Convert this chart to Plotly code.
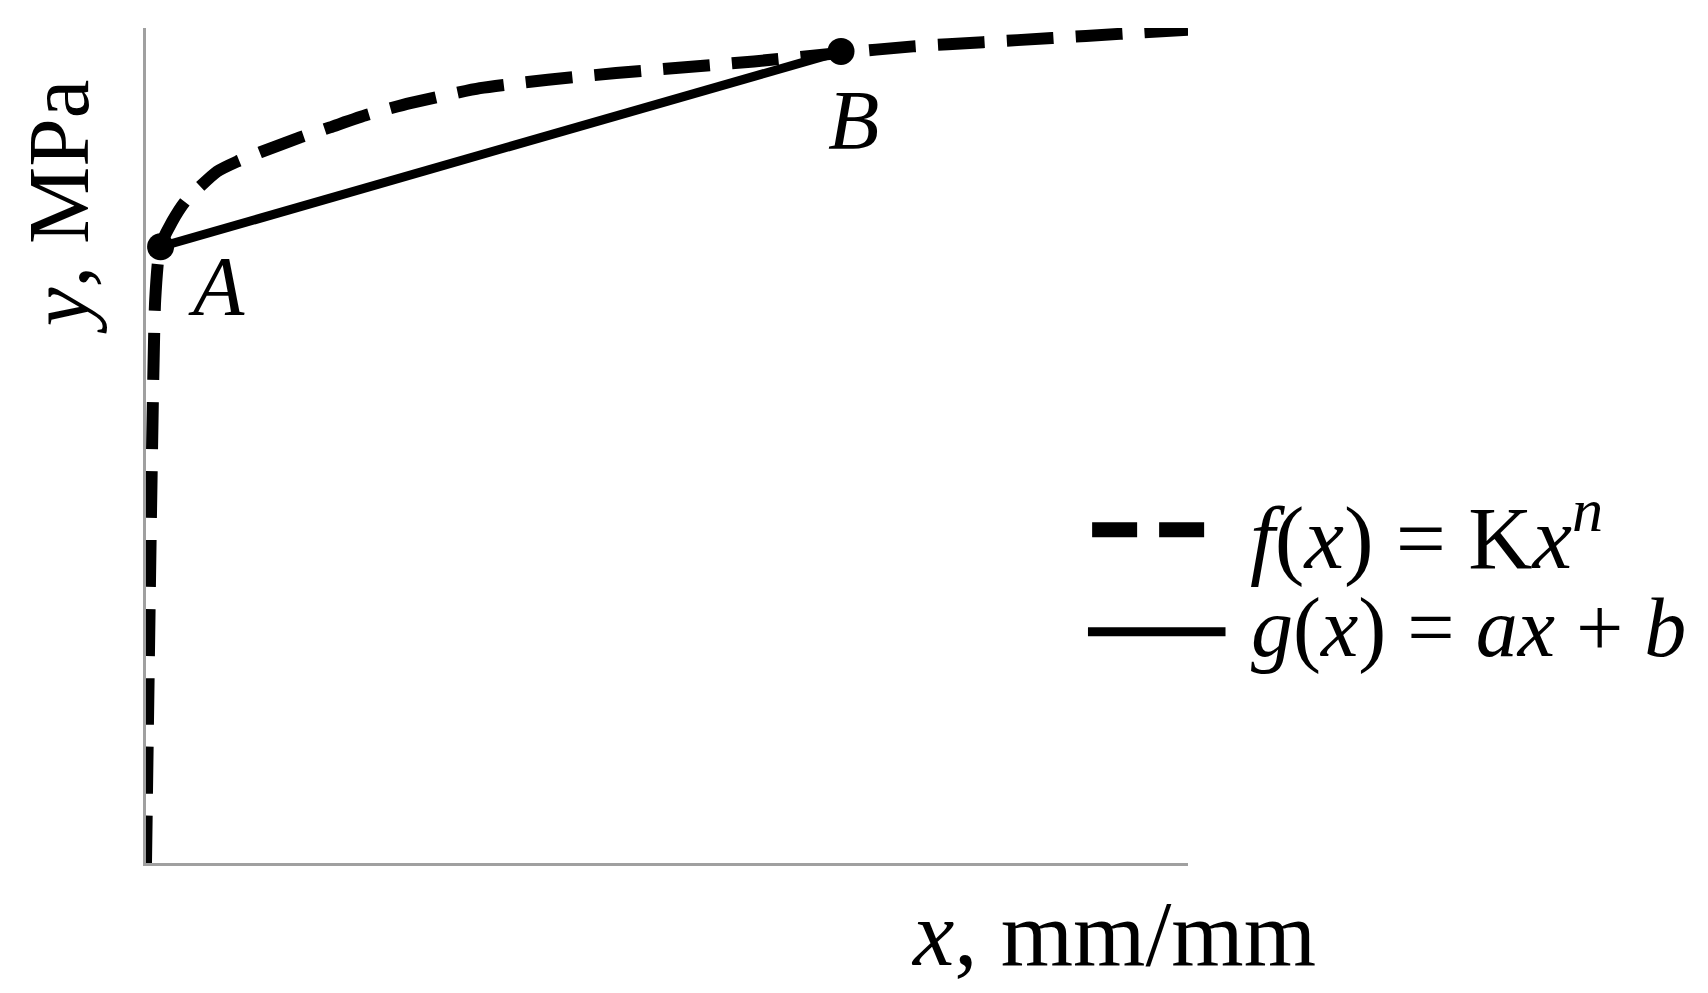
import plotly.graph_objects as go

# Power-law curve f(x) = K x^n (normalised units)
f_x = [0.0000, 0.0022, 0.0050, 0.0088, 0.0134, 0.0250, 0.0374, 0.0518, 0.0681,
       0.0873, 0.1094, 0.1478, 0.1766, 0.2121, 0.2534, 0.3205, 0.3858, 0.4511,
       0.5173, 0.5835, 0.6660, 0.7361, 0.8033, 0.8695, 0.9347, 1.0000]
f_y = [0.000, 0.195, 0.435, 0.674, 0.738, 0.768, 0.792, 0.810, 0.828,
       0.840, 0.851, 0.869, 0.881, 0.896, 0.910, 0.928, 0.938, 0.946,
       0.953, 0.960, 0.970, 0.978, 0.983, 0.988, 0.993, 0.998]

# Linear approximation g(x) = a x + b between A and B
pt_names = ["A", "B"]
pt_x = [0.0140, 0.667]
pt_y = [0.738, 0.972]

FONT = "Liberation Serif"

fig = go.Figure()
fig.add_trace(go.Scatter(x=f_x, y=f_y, mode="lines",
                         line=dict(color="black", width=12, dash="47px,22px",
                                   shape="spline", smoothing=0.5),
                         showlegend=False, hoverinfo="skip", cliponaxis=False))
fig.add_trace(go.Scatter(x=pt_x, y=pt_y, mode="lines+markers",
                         line=dict(color="black", width=9),
                         marker=dict(color="black", size=27),
                         showlegend=False, hoverinfo="skip", cliponaxis=False))

annotations = []
# point labels
shifts = {"A": (56, -40), "B": (12, -69)}
for n, px, py in zip(pt_names, pt_x, pt_y):
    dx, dy = shifts[n]
    annotations.append(dict(x=px, y=py, xref="x", yref="y", text=f"<i>{n}</i>",
                            showarrow=False, xshift=dx, yshift=dy,
                            font=dict(family=FONT, size=84, color="black")))
# axis titles
annotations.append(dict(x=0.732, y=-0.085, xref="paper", yref="paper", xanchor="left",
                        yanchor="middle", text="<i>x</i>, mm/mm", showarrow=False,
                        font=dict(family=FONT, size=93, color="black")))
annotations.append(dict(x=-0.084, y=0.786, xref="paper", yref="paper", xanchor="center",
                        yanchor="middle", text="<i>y</i>, MPa", showarrow=False, textangle=-90,
                        font=dict(family=FONT, size=87, color="black")))
# legend text
annotations.append(dict(x=1.058, y=0.398, xref="paper", yref="paper", xanchor="left",
                        yanchor="middle", text="<i>f</i>(<i>x</i>) = K<i>x</i><sup><i>n</i></sup>",
                        showarrow=False, font=dict(family=FONT, size=89, color="black")))
annotations.append(dict(x=1.059, y=0.282, xref="paper", yref="paper", xanchor="left",
                        yanchor="middle", text="<i>g</i>(<i>x</i>) = <i>ax</i> + <i>b</i>",
                        showarrow=False, font=dict(family=FONT, size=84, color="black")))

shapes = [
    dict(type="line", xref="paper", yref="paper", x0=0.908, x1=1.019, y0=0.399, y1=0.399,
         line=dict(color="black", width=15, dash="45px,22px")),
    dict(type="line", xref="paper", yref="paper", x0=0.904, x1=1.036, y0=0.277, y1=0.277,
         line=dict(color="black", width=9)),
]

fig.update_layout(
    width=1700, height=985,
    margin=dict(l=138, r=520, t=20, b=130),
    paper_bgcolor="white", plot_bgcolor="white",
    annotations=annotations, shapes=shapes,
    xaxis=dict(range=[0, 1], showgrid=False, zeroline=False, showticklabels=False,
               ticks="", showline=True, linecolor="#a0a0a0", linewidth=3),
    yaxis=dict(range=[0, 1], showgrid=False, zeroline=False, showticklabels=False,
               ticks="", showline=True, linecolor="#a0a0a0", linewidth=3),
)
fig.write_html("out.html")
